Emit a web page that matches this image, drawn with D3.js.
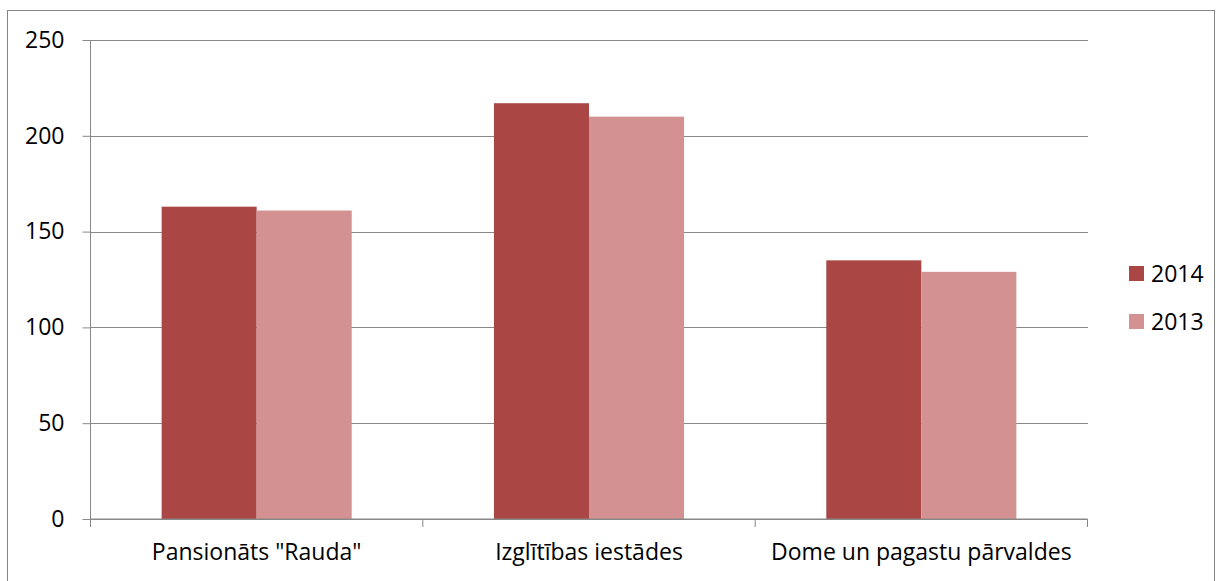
<!DOCTYPE html>
<html>
<head>
<meta charset="utf-8">
<script src="https://cdn.jsdelivr.net/npm/d3@7.9.0/dist/d3.min.js"></script>
<style>
  body { margin: 0; background: #fff; }
  svg { display: block; font-family: "Open Sans", sans-serif; }
</style>
</head>
<body>
<svg id="chart" width="1222" height="581"></svg>
<script>
// Chart data
const categories = ['Pansionāts "Rauda"', 'Izglītības iestādes', 'Dome un pagastu pārvaldes'];
const seriesNames = ['2014', '2013'];
const values2014 = [163, 217, 135];
const values2013 = [161, 210, 129];
const yTicks = [0, 50, 100, 150, 200, 250];
const colors = ['#AA4643', '#D39291'];

const rows = categories.map((c, i) => ({ category: c, '2014': values2014[i], '2013': values2013[i] }));

const svg = d3.select('#chart');
const fontSize = 23;

// outer border of the chart area
svg.append('rect')
    .attr('x', 7.5).attr('y', 10.5)
    .attr('width', 1207).attr('height', 600)
    .attr('fill', 'none')
    .attr('stroke', '#868686');

// plot area
const plot = { left: 90.5, right: 1087.5, top: 40, bottom: 519 };

const x = d3.scaleBand()
    .domain(categories)
    .range([plot.left, plot.right])
    .paddingInner(0.428)
    .paddingOuter(0.214);

const xSub = d3.scaleBand()
    .domain(seriesNames)
    .range([0, x.bandwidth()]);

const y = d3.scaleLinear()
    .domain([0, 250])
    .range([plot.bottom, plot.top]);

// gridlines
svg.append('g')
    .attr('transform', `translate(${plot.left},0)`)
    .call(d3.axisLeft(y).tickValues(yTicks).tickFormat('').tickSize(-(plot.right - plot.left)))
    .call(g => g.select('.domain').remove())
    .call(g => g.selectAll('line').attr('stroke', '#888').attr('shape-rendering', 'crispEdges'));

// bars
svg.append('g')
    .selectAll('g')
    .data(rows)
    .join('g')
    .attr('transform', d => `translate(${x(d.category)},0)`)
    .selectAll('rect')
    .data(d => seriesNames.map((s, i) => ({ key: s, value: d[s], color: colors[i] })))
    .join('rect')
    .attr('x', d => xSub(d.key))
    .attr('y', d => y(d.value))
    .attr('width', xSub.bandwidth())
    .attr('height', d => y(0) - y(d.value))
    .attr('fill', d => d.color);

// y axis
svg.append('g')
    .attr('transform', `translate(${plot.left},0)`)
    .call(d3.axisLeft(y).tickValues(yTicks).tickSize(8).tickPadding(18))
    .call(g => g.select('.domain').attr('stroke', '#888').attr('d', `M0,${plot.top}V${plot.bottom}`))
    .call(g => g.selectAll('line').attr('stroke', '#888'))
    .call(g => g.selectAll('text').attr('font-size', fontSize).attr('fill', '#000').attr('font-family', '"Open Sans", sans-serif'));

// x axis with category boundary ticks
const xAxisG = svg.append('g').attr('transform', `translate(0,${plot.bottom})`);
xAxisG.append('line')
    .attr('x1', plot.left).attr('x2', plot.right)
    .attr('stroke', '#888');
const step = x.step();
const bounds = d3.range(categories.length + 1).map(i => plot.left + i * step);
xAxisG.selectAll('.bt')
    .data(bounds)
    .join('line')
    .attr('x1', d => d).attr('x2', d => d)
    .attr('y1', 0).attr('y2', 8)
    .attr('stroke', '#888');
xAxisG.selectAll('text')
    .data(categories)
    .join('text')
    .attr('x', d => x(d) + x.bandwidth() / 2)
    .attr('y', 41)
    .attr('text-anchor', 'middle')
    .attr('font-size', fontSize)
    .text(d => d);

// legend
const legend = svg.append('g').attr('transform', 'translate(1129,0)');
seriesNames.forEach((s, i) => {
  const cy = 274 + i * 48;
  legend.append('rect')
      .attr('x', 0).attr('y', cy - 8)
      .attr('width', 15).attr('height', 15)
      .attr('fill', colors[i]);
  legend.append('text')
      .attr('x', 22).attr('y', cy + 8)
      .attr('font-size', fontSize)
      .text(s);
});
</script>
</body>
</html>
